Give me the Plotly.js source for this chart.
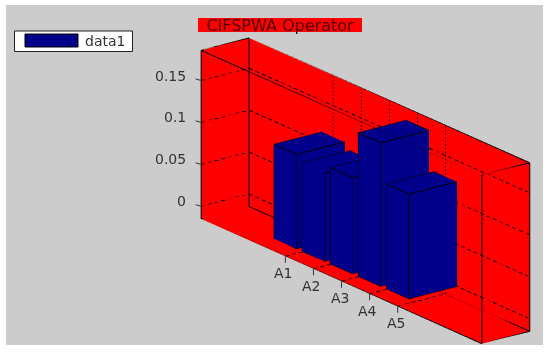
<!DOCTYPE html>
<html><head><meta charset="utf-8">
<script src="https://cdn.plot.ly/plotly-3.0.1.min.js"></script>
<style>html,body{margin:0;padding:0;background:#fff;overflow:hidden}
#g{position:absolute;left:6px;top:5px;width:537px;height:340px}</style></head>
<body><div id="g"></div>
<script>
const categories = ['A1','A2','A3','A4','A5'];
const positions = [1,2,3,4,5];
const values = [0.1125,0.105,0.1145,0.171,0.1246];
const zTicks = [0,0.05,0.1,0.15];
const zTickLabels = ['0','0.05','0.1','0.15'];
const seriesName = 'data1';
const titleText = 'CIFSPWA Operator';
const xRange=[-2,8], yRange=[0.6,1.4], zRange=[-0.015,0.186];
const barHalf=0.4;

const vx=[],vy=[],vz=[],fi=[],fj=[],fk=[],ex=[],ey=[],ez=[];
positions.forEach((p,n)=>{
  const h=values[n], b=vx.length;
  const X=[p-barHalf,p+barHalf],Y=yRange,Z=[0,h];
  for(const z of Z)for(const y of Y)for(const x of X){vx.push(x);vy.push(y);vz.push(z);}
  [[0,1,3],[0,3,2],[4,5,7],[4,7,6],[0,1,5],[0,5,4],[2,3,7],[2,7,6],[0,2,6],[0,6,4],[1,3,7],[1,7,5]]
    .forEach(t=>{fi.push(b+t[0]);fj.push(b+t[1]);fk.push(b+t[2]);});
  [[0,1],[1,3],[3,2],[2,0],[4,5],[5,7],[7,6],[6,4],[0,4],[1,5],[2,6],[3,7]].forEach(e=>{
    ex.push(vx[b+e[0]],vx[b+e[1]],null);ey.push(vy[b+e[0]],vy[b+e[1]],null);ez.push(vz[b+e[0]],vz[b+e[1]],null);
  });
});
const span=[xRange[1]-xRange[0],yRange[1]-yRange[0],zRange[1]-zRange[0]];
const pxAxis=[[279.7,124.3],[47.7,-12.3],[0,-168]];
function pxLen(p,q){let u=0,v=0;for(let i=0;i<3;i++){const f=(q[i]-p[i])/span[i];u+=f*pxAxis[i][0];v+=f*pxAxis[i][1];}return Math.hypot(u,v);}
function dashed(out,p,q,on,off){
  const L=pxLen(p,q);const n=Math.floor(L/(on+off))+1;
  for(let k=0;k<n;k++){
    const t0=k*(on+off)/L,t1=Math.min(1,(k*(on+off)+on)/L);
    if(t0>=1)break;
    for(let i=0;i<3;i++){out[i].push(p[i]+(q[i]-p[i])*t0,p[i]+(q[i]-p[i])*t1,null);}
  }
}
const xa=xRange[0],xb=xRange[1],ya=yRange[0],yb=yRange[1],za=zRange[0],zb=zRange[1];
const gd=[[],[],[]];
zTicks.forEach(z=>{dashed(gd,[xa,ya,z],[xa,yb,z],4,3);dashed(gd,[xa,yb,z],[xb,yb,z],4,3);});
positions.forEach(p=>dashed(gd,[p,ya,za],[p,yb,za],4,3));
const dd=[[],[],[]];
positions.forEach(p=>dashed(dd,[p,yb,za],[p,yb,zb],1.6,2));
const bx=[],by=[],bz=[];
[[[xa,ya,za],[xb,ya,za]],[[xa,yb,za],[xb,yb,za]],[[xa,ya,zb],[xb,ya,zb]],[[xa,yb,zb],[xb,yb,zb]],
 [[xa,ya,za],[xa,yb,za]],[[xb,ya,za],[xb,yb,za]],[[xa,ya,zb],[xa,yb,zb]],[[xb,ya,zb],[xb,yb,zb]],
 [[xa,ya,za],[xa,ya,zb]],[[xb,ya,za],[xb,ya,zb]],[[xa,yb,za],[xa,yb,zb]],[[xb,yb,za],[xb,yb,zb]]].forEach(s=>{
  bx.push(s[0][0],s[1][0],null);by.push(s[0][1],s[1][1],null);bz.push(s[0][2],s[1][2],null);
});
const lineTrace=(x,y,z,w)=>({type:'scatter3d',mode:'lines',x,y,z,line:{color:'#000',width:w},hoverinfo:'skip',showlegend:false,connectgaps:false});
const traces=[
 {type:'mesh3d',x:vx,y:vy,z:vz,i:fi,j:fj,k:fk,color:'#00008B',flatshading:true,name:seriesName,hoverinfo:'skip',
  lighting:{ambient:1,diffuse:0,specular:0,roughness:1,fresnel:0}},
 lineTrace(ex,ey,ez,2), lineTrace(gd[0],gd[1],gd[2],2), lineTrace(dd[0],dd[1],dd[2],2), lineTrace(bx,by,bz,2)
];
const a=52.7*Math.PI/180,phi=19.8*Math.PI/180,R=2,unit=169.5,k=1.18;
const right=[Math.cos(a),Math.sin(a),0],up=[-Math.sin(a)*Math.sin(phi),Math.cos(a)*Math.sin(phi),Math.cos(phi)];
const e=[Math.sin(a)*Math.cos(phi),-Math.cos(a)*Math.cos(phi),Math.sin(phi)];
const sx=-90.7/unit,sy=15.8/unit;
const c=[0,1,2].map(i=>sx*right[i]+sy*up[i]);
const font={family:'DejaVu Sans',size:14,color:'#333'};
const ax={showbackground:true,backgroundcolor:'#FF0000',showgrid:false,zeroline:false,showline:false,showspikes:false,showticklabels:false,ticks:'',title:{text:''}};
const tick={text:'',showarrow:true,arrowhead:0,arrowwidth:1,arrowcolor:'#333',standoff:0};
const sceneAnn=[];
positions.forEach((p,n)=>{
  sceneAnn.push(Object.assign({},tick,{x:p,y:ya,z:za,ax:0,ay:8}));
  sceneAnn.push({x:p,y:ya,z:za,text:categories[n],showarrow:false,xanchor:'center',yanchor:'middle',xshift:-2,yshift:-17,font});
});
zTicks.forEach((z,n)=>{
  sceneAnn.push(Object.assign({},tick,{x:xa,y:ya,z,ax:-7,ay:-2}));
  sceneAnn.push({x:xa,y:ya,z,text:zTickLabels[n],showarrow:false,xanchor:'right',yanchor:'middle',xshift:-13,yshift:5,font});
});
const layout={width:537,height:340,paper_bgcolor:'#CCCCCC',margin:{l:0,r:0,t:0,b:0},showlegend:false,
 title:{text:titleText,x:(280-6)/537,xanchor:'center',y:1-(25-5)/340,yanchor:'middle',font:{family:'DejaVu Sans',size:16,color:'#4a0000'}},
 shapes:[
  {type:'rect',xref:'paper',yref:'paper',x0:(198-6)/537,x1:(362-6)/537,y0:1-(32-5)/340,y1:1-(18-5)/340,fillcolor:'#FF0000',line:{width:0},layer:'below'},
  {type:'rect',xref:'paper',yref:'paper',x0:(14.5-6)/537,x1:(132.5-6)/537,y0:1-(51.5-5)/340,y1:1-(31-5)/340,fillcolor:'#fff',line:{color:'#222',width:1}},
  {type:'rect',xref:'paper',yref:'paper',x0:(25-6)/537,x1:(78-6)/537,y0:1-(47-5)/340,y1:1-(34-5)/340,fillcolor:'#00008B',line:{color:'#000',width:1}}
 ],
 annotations:[{xref:'paper',yref:'paper',x:(83-6)/537,y:1-(41-5)/340,xanchor:'left',yanchor:'middle',showarrow:false,text:seriesName,font}],
 scene:{domain:{x:[0,1],y:[0,1]},bgcolor:'rgba(0,0,0,0)',aspectmode:'manual',aspectratio:{x:2.31*k,y:0.3*k,z:0.893*k},
  camera:{projection:{type:'orthographic'},up:{x:0,y:0,z:1},center:{x:c[0],y:c[1],z:c[2]},eye:{x:c[0]+R*e[0],y:c[1]+R*e[1],z:c[2]+R*e[2]}},
  xaxis:Object.assign({},ax,{range:xRange}),
  yaxis:Object.assign({},ax,{range:yRange}),
  zaxis:Object.assign({},ax,{range:zRange}),
  annotations:sceneAnn
 }};
Plotly.newPlot('g',traces,layout,{displayModeBar:false});
</script></body></html>
